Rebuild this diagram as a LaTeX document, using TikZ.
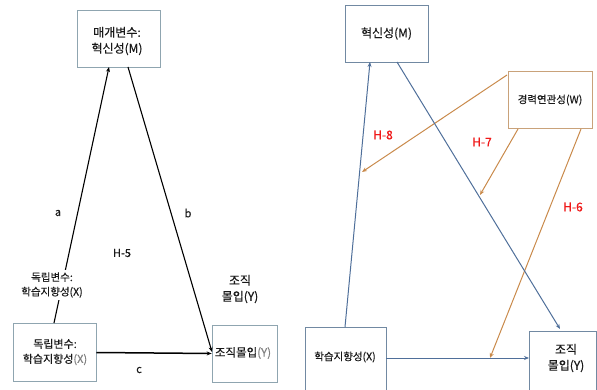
\documentclass[tikz,border=0pt]{standalone}
\usepackage{fontspec}
\setmainfont{Noto Sans CJK KR}[FakeBold=0.4]
\usetikzlibrary{arrows.meta}
\definecolor{lblue}{HTML}{4F6F9A}
\definecolor{lorange}{HTML}{C98A4B}
\definecolor{boxgray}{HTML}{8FA5B0}
\definecolor{boxblue}{HTML}{7189A2}
\definecolor{boxorange}{HTML}{C9A27A}
\definecolor{hred}{HTML}{F01818}
\newcommand{\fs}[1]{\fontsize{#1}{#1}\selectfont}
\begin{document}
\begin{tikzpicture}[x=1pt,y=-1pt,
  every node/.style={font=\fs{11}, text=black!90},
  lbox/.style={draw=boxgray, line width=0.7pt, inner sep=0pt, align=center},
  rbox/.style={draw=boxblue, line width=0.7pt, align=center, inner sep=0pt},
  wbox/.style={draw=boxorange, line width=0.7pt, align=center, inner sep=0pt},
  lab/.style={fill=white, align=center, inner sep=2pt},
  hlab/.style={fill=white, text=hred, font=\fs{12}, inner sep=6pt},
  larrow/.style={draw=black, line width=1.1pt, -{Stealth[length=5pt,width=4pt]}},
  barrow/.style={draw=lblue, line width=1pt, -{Stealth[length=5pt,width=4pt]}},
  oarrow/.style={draw=lorange, line width=1pt, -{Stealth[length=5pt,width=4pt]}}
]
\useasboundingbox (0,0) rectangle (597,390);
% ---------- left diagram ----------
\node[lbox, minimum width=83pt, minimum height=57pt] (lm) at (118.5,38.5) {};
\node[align=center, font=\fs{12}] at (117,41) {매개변수:\\[4pt]혁신성(M)};
\node[lbox, minimum width=83pt, minimum height=58pt] (lx) at (54.5,352.5) {};
\node[align=center, font=\fs{11}] at (55,352) {독립변수:\\[4pt]학습지향성\textcolor{gray}{(X)}};
\node[lbox, minimum width=65pt, minimum height=57pt] (ly) at (244.5,353.5) {};
\node[font=\fs{11.5}] at (243,353) {조직몰입\textcolor{gray}{(Y)}};
\coordinate (la1) at (54,323);
\coordinate (la2) at (109,67);
\coordinate (lb1) at (128,67);
\coordinate (lb2) at (212,352);
\draw[larrow] (la1) -- (la2);
\draw[larrow] (lb1) -- (lb2);
\draw[larrow, line width=1.5pt] (lx.east) -- (ly.west);
\node[lab, font=\fs{10.5}] (lxlab) at (52,285) {독립변수:\\[4pt]학습지향성(X)};
\node (la) at (58,213) {a};
\node (lbl) at (188,213) {b};
\node (lh5) at (122,253) {H-5};
\node (lc) at (139,370) {c};
\node[align=center, font=\fs{12}] (lylab) at (240,289) {조직\\[4pt]몰입(Y)};
% ---------- right diagram ----------
\node[rbox, minimum width=83pt, minimum height=57pt, font=\fs{12}] (rm) at (386.5,33.5) {혁신성(M)};
\node[wbox, minimum width=84pt, minimum height=57pt, font=\fs{10.5}] (rw) at (550,100) {경력연관성(W)};
\node[rbox, minimum width=81pt, minimum height=70pt] (rx) at (345.5,362) {};
\node[font=\fs{10.5}] at (345,357) {학습지향성(X)};
\node[rbox, minimum width=67pt, minimum height=62pt] (ry) at (562.5,362) {};
\node[align=center, font=\fs{12}] at (566,358) {조직\\[4pt]몰입(Y)};
\coordinate (h8) at (362,172);
\coordinate (h7) at (480,195);
\coordinate (h6) at (490,358);
\draw[oarrow] (507,75) -- (h8);
\draw[oarrow] (518,129) -- (h7);
\draw[oarrow] (581,129) -- (h6);
\node[hlab] (lh8) at (383,135) {H-8};
\node[hlab] (lh7) at (482,142) {H-7};
\node[hlab] (lh6) at (573,207) {H-6};
\draw[barrow] (345,327) -- (370,62);
\draw[barrow] (397,62) -- (560,329);
\draw[barrow] (386,358) -- (529,358);
\end{tikzpicture}
\end{document}
